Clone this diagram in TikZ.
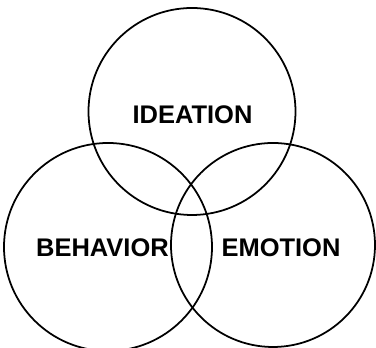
\documentclass[tikz,border=0pt]{standalone}
\usepackage{fontspec}
\setmainfont{Liberation Sans}
\usepackage{tikz}

\begin{document}
\begin{tikzpicture}[every node/.style={font=\fontsize{14.5}{16}\selectfont\bfseries}]
\useasboundingbox (0,0) rectangle (7.52,6.96);
\draw[line width=1pt] (3.84,4.73) circle (2.07);
\draw[line width=1pt] (2.16,2.02) circle (2.08);
\draw[line width=1pt] (5.46,2.06) circle (2.04);
\node (ideation) at (3.85,4.66) {IDEATION};
\node (behavior) at (2.05,2.00) {BEHAVIOR};
\node (emotion) at (5.62,2.00) {EMOTION};
\end{tikzpicture}
\end{document}
